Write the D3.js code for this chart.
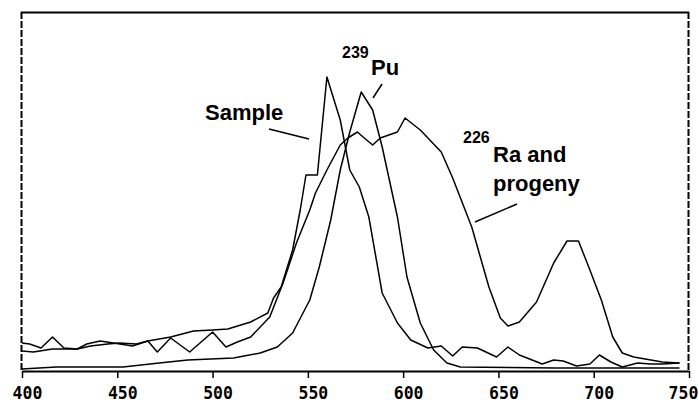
<!DOCTYPE html>
<html><head><meta charset="utf-8">
<script src="https://cdn.jsdelivr.net/npm/d3@7"></script>
<style>
html,body{margin:0;padding:0;background:#fff;}
svg{display:block;}
</style></head>
<body>
<svg id="chart" width="699" height="404"></svg>
<script>
// energy (channel) values and counts
const sampleE = [400,406,416,429,436,445,451,460,466,472,478,490,500,508,520,529,532,536,542,546,549,555,560,567,572,577,582,589,597,604,613,620,626,631,639,649,655,661,673,679,684,691,698,703,709,715,723,730,736,745];
const sampleC = [20,19,22,22,25,27,28,27,30,32,34,40,41,42,49,58,73,84,121,161,196,196,294,251,201,184,154,78,48,31,23,25,15,24,23,14,24,16,7,11,10,5,7,16,9,4,8,7,7,8];

const puE = [400,418,453,472,487,511,525,534,542,551,556,562,567,572,578,584,589,597,602,609,616,623,630,680,745];
const puC = [2,4,4,8,11,13,18,24,38,71,104,151,201,239,279,261,224,154,94,48,21,8,4,3,3];

const raE = [400,404,410,416,422,429,434,441,448,458,466,471,478,488,500,507,513,520,530,537,544,551,554,560,567,571,576,579,584,588,597,601,609,620,626,636,645,651,655,661,670,679,686,692,698,704,710,715,721,730,736,745];
const raC = [28,27,23,34,23,22,27,30,28,25,30,19,33,19,39,24,29,34,54,88,128,161,178,201,226,233,239,234,226,233,239,253,241,219,193,144,84,53,45,49,69,108,130,130,101,71,34,18,14,11,9,8];

const xTicks = [400,450,500,550,600,650,700,750];
const xTickLabels = ["400","450","500","550","600","650","700","750"];

const svg = d3.select("#chart");
const x = d3.scaleLinear().domain([400,750]).range([22,689]);
const y = d3.scaleLinear().domain([0,359]).range([371,12]);

// frame
svg.append("line").attr("x1",21).attr("x2",689).attr("y1",12.5).attr("y2",12.5)
  .attr("stroke","#000").attr("stroke-width",2);
svg.append("line").attr("x1",21.5).attr("x2",21.5).attr("y1",12).attr("y2",371)
  .attr("stroke","#000").attr("stroke-width",2).attr("stroke-dasharray","7,2");
svg.append("line").attr("x1",688.5).attr("x2",688.5).attr("y1",12).attr("y2",371)
  .attr("stroke","#000").attr("stroke-width",2).attr("stroke-dasharray","7,2");

// axis
const axis = d3.axisBottom(x).tickValues(xTicks)
  .tickFormat((d,i)=>xTickLabels[i]).tickSize(7).tickSizeOuter(0);
const g = svg.append("g").attr("transform","translate(0,371)").call(axis);
g.select(".domain").attr("stroke","#000").attr("stroke-width",2);
g.selectAll(".tick line").attr("stroke","#000").attr("stroke-width",1.5);
g.selectAll(".tick text").attr("fill","#000")
  .attr("y",0).attr("dy",null)
  .attr("transform",(d,i)=>"translate(" + (i===xTicks.length-1 ? -6 : 5) + ",27.5) scale(1,1.12)")
  .style("font-family","'DejaVu Sans Mono', monospace")
  .style("font-weight","bold").style("font-size","16.5px");

const line = d3.line().x(d=>x(d[0])).y(d=>y(d[1]));
function draw(E,C){
  svg.append("path").datum(E.map((e,i)=>[e,C[i]]))
    .attr("d",line).attr("fill","none").attr("stroke","#000")
    .attr("stroke-width",1.5).attr("stroke-linejoin","round");
}
draw(puE,puC);
draw(raE,raC);
draw(sampleE,sampleC);

// annotations
const font = "'Liberation Sans', Arial, sans-serif";
function txt(t,xx,yy,size){
  svg.append("text").attr("x",xx).attr("y",yy).text(t)
    .style("font-family",font).style("font-weight","bold").style("font-size",size+"px").attr("fill","#000");
}
txt("Sample",205,120,22);
txt("239",342,58,16);
txt("Pu",371,75,22);
txt("226",463,143,16);
txt("Ra and",493,162,22);
txt("progeny",493,191,22);

function ptr(x1,y1,x2,y2){
  svg.append("line").attr("x1",x1).attr("y1",y1).attr("x2",x2).attr("y2",y2)
    .attr("stroke","#000").attr("stroke-width",1.5);
}
ptr(269,129,309,139);
ptr(382,84,373,98);
ptr(517,204,475,222);
</script>
</body></html>
